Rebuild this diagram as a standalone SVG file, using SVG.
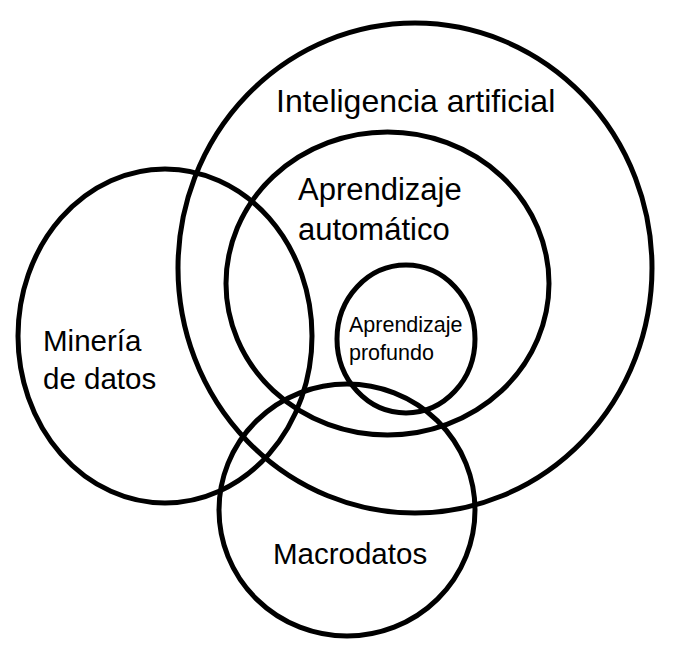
<svg xmlns="http://www.w3.org/2000/svg" width="674" height="653" viewBox="0 0 674 653">
  <style>
    .ring { fill: none; stroke: #000; stroke-width: 5; }
    .lbl { font-family: "Liberation Sans", Arial, sans-serif; fill: #000; }
  </style>
  <rect width="674" height="653" fill="#fff"/>
  <g id="inteligencia-artificial">
    <ellipse class="ring" cx="415" cy="268" rx="237" ry="245"/>
    <text class="lbl" x="276" y="112" font-size="32">Inteligencia artificial</text>
  </g>
  <g id="aprendizaje-automatico">
    <ellipse class="ring" cx="387.5" cy="283.5" rx="161.5" ry="151.5"/>
    <text class="lbl" font-size="31"><tspan x="298" y="200">Aprendizaje</tspan><tspan x="298" y="240">automático</tspan></text>
  </g>
  <g id="aprendizaje-profundo">
    <ellipse class="ring" cx="406" cy="339" rx="69" ry="74"/>
    <text class="lbl" font-size="21.5"><tspan x="349" y="332">Aprendizaje</tspan><tspan x="349" y="360">profundo</tspan></text>
  </g>
  <g id="mineria-de-datos">
    <ellipse class="ring" cx="165" cy="336" rx="147" ry="167"/>
    <text class="lbl" font-size="29.5"><tspan x="43" y="351">Minería</tspan><tspan x="43" y="389">de datos</tspan></text>
  </g>
  <g id="macrodatos">
    <ellipse class="ring" cx="347" cy="510" rx="128" ry="126"/>
    <text class="lbl" x="273" y="564" font-size="29.5">Macrodatos</text>
  </g>
  <g id="connectors"/>
</svg>
